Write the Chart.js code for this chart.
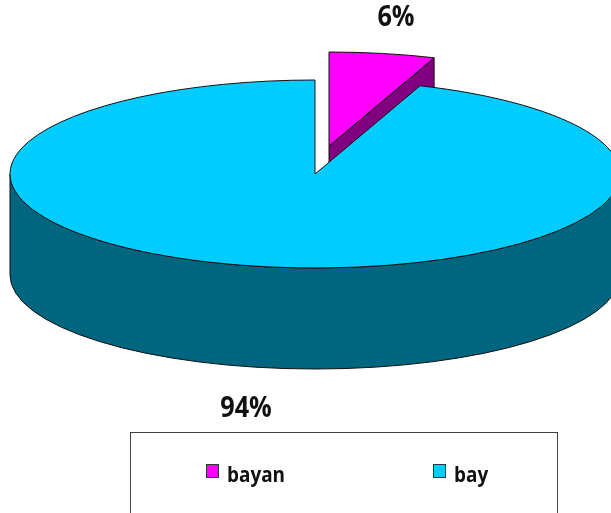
<!DOCTYPE html>
<html>
<head>
<meta charset="utf-8">
<script src="https://cdn.jsdelivr.net/npm/chart.js@4"></script>
<style>
  html, body { margin: 0; padding: 0; background: #fff; overflow: hidden; }
  #wrap { position: relative; width: 611px; height: 513px; overflow: hidden; }
  #legendBox {
    position: absolute; left: 130px; top: 432px; width: 426px; height: 90px;
    border: 1px solid #444; box-sizing: content-box;
  }
  .legend-item {
    position: absolute; top: 26px; display: flex; align-items: center;
    font: bold 22px "Open Sans", sans-serif; color: #111; line-height: 28px;
  }
  .legend-swatch { width: 11px; height: 12px; border: 1px solid #333; margin-right: 8px; position: relative; top: -2px; }
  .legend-text { display: inline-block; transform: scaleX(0.86); transform-origin: left center; }
</style>
</head>
<body>
<div id="wrap">
  <canvas id="pie" width="611" height="513"></canvas>
  <div id="legendBox"></div>
</div>
<script>
const categories = ['bayan', 'bay'];
const shares = [5.6, 94.4];
const topColors = ['#ff00ff', '#00ccff'];
const wallColors = ['#800080', '#006680'];
const legendLefts = [75, 302];
const labelSpots = [[396, 26], [246, 417]];

// how the flat pie gets laid over on the page
const CX = 315, CY = 174, RX = 305, RY = 94, DEPTH = 101;
const SHIFTS = [[14, -28], [0, 0]];

function edgePoint(a, i, drop) {
  return [CX + SHIFTS[i][0] + RX * Math.cos(a), CY + SHIFTS[i][1] + RY * Math.sin(a) + (drop || 0)];
}

const tiltedPie = {
  id: 'tiltedPie',
  beforeDatasetDraw(chart, args) {
    const ctx = chart.ctx;
    const arcs = chart.getDatasetMeta(args.index).data;

    // exploded slice first, the big slice sits on top of its wall
    arcs.forEach((arc, i) => {
      const { startAngle, endAngle, outerRadius } = arc;
      ctx.save();
      ctx.fillStyle = wallColors[i];
      ctx.strokeStyle = '#111';
      ctx.lineWidth = 1;

      ctx.beginPath();
      if (i === 0) {
        // cut face running from the tip out to the rim
        const tip = [CX + SHIFTS[i][0], CY + SHIFTS[i][1]];
        const rim = edgePoint(endAngle, i);
        ctx.moveTo(tip[0], tip[1]);
        ctx.lineTo(rim[0], rim[1]);
        ctx.lineTo(rim[0], rim[1] + DEPTH);
        ctx.lineTo(tip[0], tip[1] + DEPTH);
      } else {
        ctx.ellipse(CX, CY, RX, RY, 0, 0, Math.PI);
        ctx.lineTo(CX - RX, CY + DEPTH);
        ctx.ellipse(CX, CY + DEPTH, RX, RY, 0, Math.PI, 0, true);
      }
      ctx.closePath();
      ctx.fill();
      ctx.stroke();

      // flat slice drawn by the library, squashed into the ellipse
      ctx.save();
      ctx.translate(CX + SHIFTS[i][0], CY + SHIFTS[i][1]);
      ctx.scale(RX / outerRadius, RY / outerRadius);
      ctx.translate(-arc.x, -arc.y);
      arc.draw(ctx);
      ctx.restore();

      ctx.beginPath();
      ctx.moveTo(CX + SHIFTS[i][0], CY + SHIFTS[i][1]);
      ctx.ellipse(CX + SHIFTS[i][0], CY + SHIFTS[i][1], RX, RY, 0, startAngle, endAngle);
      ctx.closePath();
      ctx.stroke();
      ctx.restore();
    });
    return false;
  },
  afterDraw(chart) {
    const ctx = chart.ctx;
    shares.forEach((v, i) => {
      ctx.save();
      ctx.fillStyle = '#111';
      ctx.font = 'bold 29px "Open Sans", sans-serif';
      ctx.textAlign = 'center';
      ctx.translate(labelSpots[i][0], labelSpots[i][1]);
      ctx.scale(0.87, 1);
      ctx.fillText(Math.round(v) + '%', 0, 0);
      ctx.restore();
    });
  }
};

const chart = new Chart(document.getElementById('pie'), {
  type: 'pie',
  data: {
    labels: categories,
    datasets: [{
      data: shares,
      backgroundColor: topColors,
      borderWidth: 0
    }]
  },
  options: {
    responsive: false,
    animation: false,
    events: [],
    plugins: {
      legend: { display: false },
      tooltip: { enabled: false }
    }
  },
  plugins: [tiltedPie]
});

// legend sits in its own framed box under the pie
const legendBox = document.getElementById('legendBox');
chart.options.plugins.legend.labels.generateLabels(chart).forEach((item, i) => {
  const row = document.createElement('div');
  row.className = 'legend-item';
  row.style.left = legendLefts[i] + 'px';
  const swatch = document.createElement('span');
  swatch.className = 'legend-swatch';
  swatch.style.background = item.fillStyle;
  const text = document.createElement('span');
  text.className = 'legend-text';
  text.textContent = item.text;
  row.appendChild(swatch);
  row.appendChild(text);
  legendBox.appendChild(row);
});
</script>
</body>
</html>
